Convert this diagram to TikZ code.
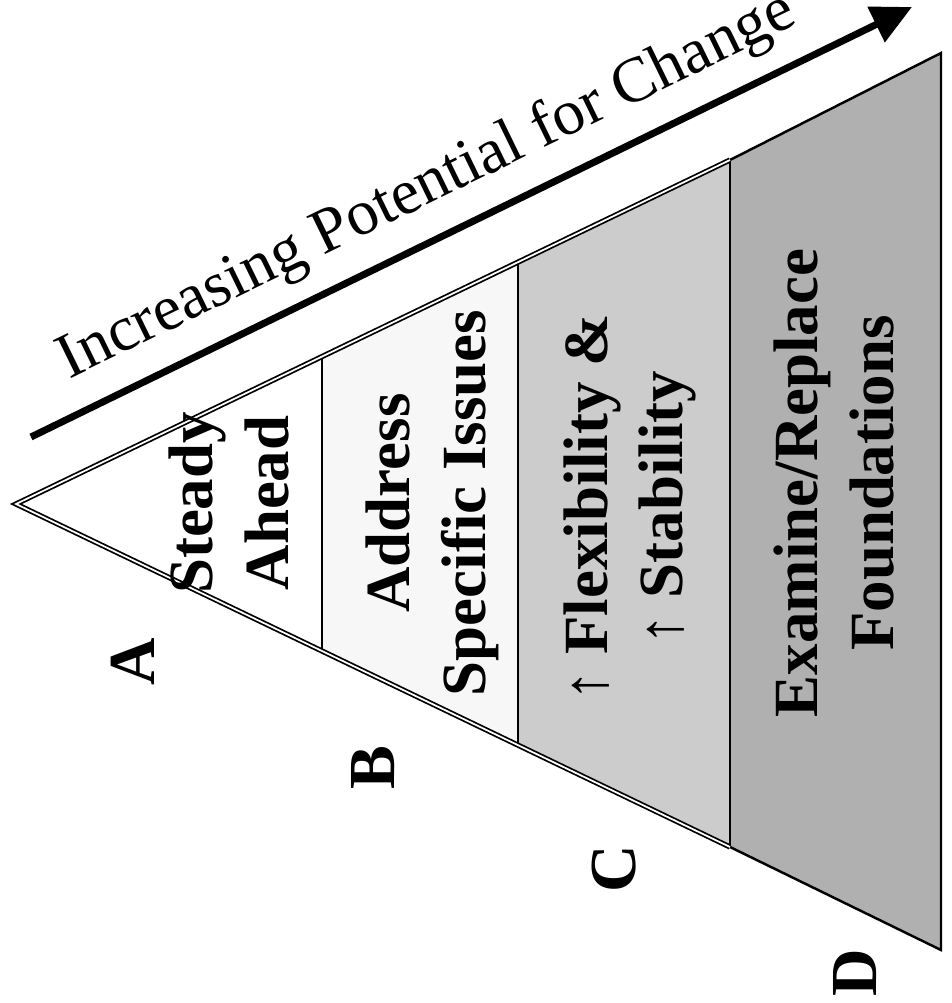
\documentclass[tikz,border=0pt]{standalone}
\usepackage{fontspec}
\setmainfont{Liberation Serif}
\usetikzlibrary{arrows.meta}
\definecolor{shadeB}{gray}{0.97}
\definecolor{shadeC}{gray}{0.80}
\definecolor{shadeD}{gray}{0.69}

\begin{document}
\begin{tikzpicture}[x=0.02cm, y=-0.02cm,
		band/.style={font=\bfseries\fontsize{35.8}{43.2}\selectfont, align=center, rotate=90},
		tag/.style={font=\bfseries\fontsize{37.4}{44}\selectfont, rotate=90},
		rim/.style={double, line width=1pt, double distance=1pt},
		trend/.style={-{Triangle[length=0.8cm, width=0.76cm]}, line width=0.14cm}]
	\useasboundingbox (0,0) rectangle (951,1003);
	%--- corners of the bands
	\coordinate (apex) at (16,504);
	\coordinate (tAB) at (322,357);
	\coordinate (bAB) at (322,651);
	\coordinate (tBC) at (518,262);
	\coordinate (bBC) at (518,745);
	\coordinate (tCD) at (730,160);
	\coordinate (bCD) at (730,847);
	\coordinate (tD) at (941,53);
	\coordinate (bD) at (941,950);
	%--- bands D, C, B
	\fill[shadeD] (tCD) -- (tD) -- (bD) -- (bCD) -- cycle;
	\draw[line width=1.4pt] (tCD) -- (tD) -- (bD) -- (bCD);
	\fill[shadeC] (tBC) -- (tCD) -- (bCD) -- (bBC) -- cycle;
	\fill[shadeB] (tAB) -- (tBC) -- (bBC) -- (bAB) -- cycle;
	\draw[line width=0.8pt] (tAB) -- (bAB);
	\draw[line width=1pt] (tBC) -- (bBC);
	\draw[line width=1.3pt] (tCD) -- (bCD);
	\draw[rim] (tCD) -- (apex) -- (bCD);
	%--- trend arrow and its title
	\coordinate (arrS) at (31,437);
	\coordinate (arrE) at (912,7);
	\draw[trend] (arrS) -- (arrE);
	\node[anchor=base west, rotate=26, font=\fontsize{36.4}{44}\selectfont]
	(title) at (64,382) {Increasing Potential for Change};
	%--- band texts
	\node[band] (steady) at (229,503) {Steady\\Ahead};
	\node[band] (address) at (432,503) {Address\\Specific Issues};
	\node[band] (flex) at (630,508) {{\mdseries ↑} Flexibility \&\\{\mdseries ↑} Stability};
	\node[band] (found) at (834,483) {Examine/Replace\\Foundations};
	%--- band letters
	\node[tag] (tagA) at (133,662) {A};
	\node[tag] (tagB) at (373,768) {B};
	\node[tag] (tagC) at (614,869) {C};
	\node[tag] (tagD) at (855,973) {D};
\end{tikzpicture}
\end{document}
